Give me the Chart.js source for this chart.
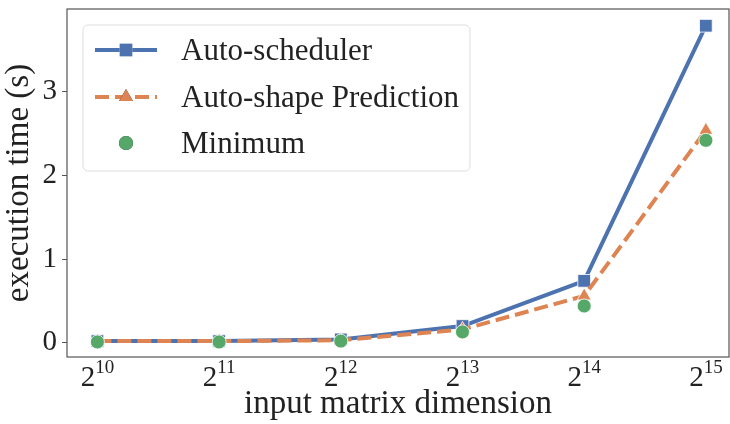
<!DOCTYPE html>
<html>
<head>
<meta charset="utf-8">
<script src="https://cdn.jsdelivr.net/npm/chart.js@4.4.0/dist/chart.umd.min.js"></script>
<style>
  html, body { margin: 0; background: #fff; overflow: hidden; }
  #wrap { width: 730px; height: 424px; }
</style>
</head>
<body>
<div id="wrap"><canvas id="timeChart"></canvas></div>
<script>
const dims = ['10', '11', '12', '13', '14', '15'];
const autoScheduler = [0.02, 0.02, 0.04, 0.20, 0.74, 3.79];
const autoShape = [0.02, 0.02, 0.03, 0.16, 0.56, 2.54];
const minimum = [0.01, 0.01, 0.02, 0.13, 0.44, 2.42];
const yTicks = [0, 1, 2, 3];

const FONT = "'Liberation Serif', 'DejaVu Serif', serif";

const toPoints = arr => arr.map((v, i) => ({ x: i, y: v }));

const noPad = scale => {
    scale.paddingTop = 0;
    scale.paddingBottom = 0;
    scale.paddingLeft = 0;
    scale.paddingRight = 0;
};

// frame, x tick labels (2 with superscript) and legend box
const framePlugin = {
    id: 'frame',
    afterDraw(chart) {
        const { ctx, chartArea: a } = chart;
        ctx.save();
        ctx.strokeStyle = '#555';
        ctx.lineWidth = 1.2;
        ctx.strokeRect(a.left, a.top, a.right - a.left, a.bottom - a.top);

        // x tick labels
        const xs = chart.scales.x;
        ctx.fillStyle = '#222';
        ctx.textBaseline = 'alphabetic';
        ctx.textAlign = 'left';
        dims.forEach((d, i) => {
            const px = xs.getPixelForValue(i);
            ctx.font = '29px ' + FONT;
            const w1 = ctx.measureText('2').width;
            ctx.font = '19px ' + FONT;
            const w2 = ctx.measureText(d).width;
            const start = px - (w1 + w2) / 2;
            ctx.font = '29px ' + FONT;
            ctx.fillText('2', start, 386);
            ctx.font = '19px ' + FONT;
            ctx.fillText(d, start + w1, 373);
        });

        // legend
        const x0 = 83, y0 = 25, w = 387, h = 146;
        ctx.fillStyle = 'rgba(255,255,255,0.8)';
        ctx.strokeStyle = '#ddd';
        ctx.lineWidth = 1;
        ctx.beginPath();
        ctx.roundRect(x0, y0, w, h, 5);
        ctx.fill();
        ctx.stroke();

        const rows = [50, 97, 143];
        const ds = chart.data.datasets;
        rows.forEach((ry, i) => {
            const d = ds[i];
            if (d.showLine !== false) {
                ctx.strokeStyle = d.borderColor;
                ctx.lineWidth = d.borderWidth;
                ctx.setLineDash(d.borderDash || []);
                ctx.beginPath();
                ctx.moveTo(95, ry);
                ctx.lineTo(157, ry);
                ctx.stroke();
                ctx.setLineDash([]);
            }
            Chart.helpers.drawPoint(ctx, {
                pointStyle: d.pointStyle,
                radius: d.pointRadius,
                rotation: 0,
                borderWidth: 0
            }, 126, ry);
            ctx.fillStyle = d.pointBackgroundColor;
            ctx.fill();
            ctx.fillStyle = '#222';
            ctx.font = '31px ' + FONT;
            ctx.textAlign = 'left';
            ctx.textBaseline = 'middle';
            ctx.fillText(d.label, 181, ry + 2);
        });
        ctx.restore();
    }
};

new Chart(document.getElementById('timeChart'), {
    type: 'line',
    data: {
        datasets: [
            {
                label: 'Auto-scheduler',
                data: toPoints(autoScheduler),
                borderColor: '#4C72B0',
                backgroundColor: '#4C72B0',
                pointBackgroundColor: '#4C72B0',
                pointBorderColor: '#fff',
                pointBorderWidth: 0.8,
                pointStyle: 'rect',
                pointRadius: 9,
                borderWidth: 4,
                order: 3
            },
            {
                label: 'Auto-shape Prediction',
                data: toPoints(autoShape),
                borderColor: '#DD8452',
                backgroundColor: '#DD8452',
                pointBackgroundColor: '#DD8452',
                pointBorderColor: '#fff',
                pointBorderWidth: 0.8,
                pointStyle: 'triangle',
                pointRadius: 8,
                borderWidth: 4,
                borderDash: [14, 6],
                order: 2
            },
            {
                label: 'Minimum',
                data: toPoints(minimum),
                showLine: false,
                borderColor: '#55A868',
                backgroundColor: '#55A868',
                pointBackgroundColor: '#55A868',
                pointBorderColor: '#fff',
                pointBorderWidth: 0.8,
                pointStyle: 'circle',
                pointRadius: 7,
                order: 1
            }
        ]
    },
    options: {
        responsive: true,
        maintainAspectRatio: false,
        animation: false,
        layout: { autoPadding: false, padding: { right: 1, top: 9, left: 0, bottom: 0 } },
        plugins: {
            legend: { display: false },
            tooltip: { enabled: false }
        },
        scales: {
            x: {
                type: 'linear',
                min: -0.25,
                max: 5.19,
                afterBuildTicks: scale => {
                    scale.ticks = dims.map((d, i) => ({ value: i }));
                },
                afterFit: scale => { scale.height = 67; noPad(scale); },
                ticks: { display: false },
                grid: { display: false },
                border: { display: false },
                title: {
                    display: true,
                    text: 'input matrix dimension',
                    color: '#222',
                    font: { family: FONT, size: 33 },
                    padding: { top: 0, bottom: 0 }
                }
            },
            y: {
                min: -0.17,
                max: 3.99,
                afterBuildTicks: scale => {
                    scale.ticks = yTicks.map(v => ({ value: v }));
                },
                afterFit: scale => { scale.width = 67; noPad(scale); },
                ticks: {
                    color: '#222',
                    font: { family: FONT, size: 29 },
                    padding: 5
                },
                grid: {
                    drawOnChartArea: false,
                    tickLength: 5,
                    color: '#555'
                },
                border: { display: false },
                title: {
                    display: true,
                    text: 'execution time (s)',
                    color: '#222',
                    font: { family: FONT, size: 33 },
                    padding: { top: 0, bottom: 0 }
                }
            }
        }
    },
    plugins: [framePlugin]
});
</script>
</body>
</html>
